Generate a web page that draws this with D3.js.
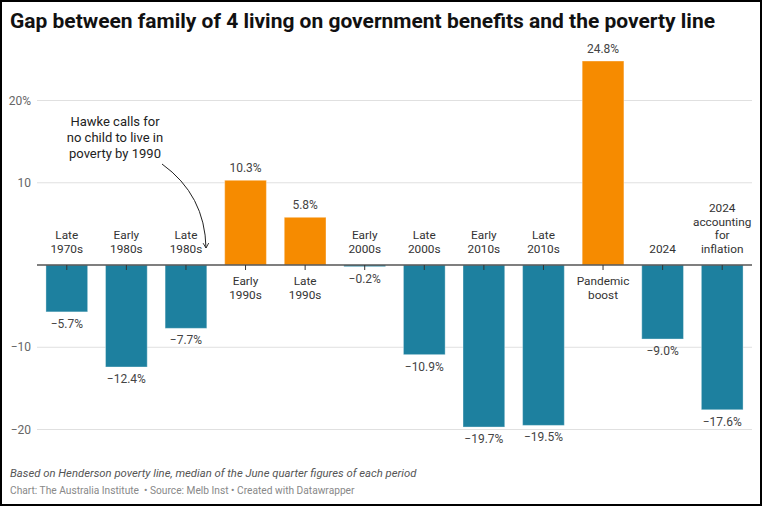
<!DOCTYPE html>
<html>
<head>
<meta charset="utf-8">
<script src="https://cdn.jsdelivr.net/npm/d3@7"></script>
<style>
  body { margin: 0; background: #fff; }
  svg { display: block; font-family: Roboto, "Noto Sans", sans-serif; }
</style>
</head>
<body>
<div id="chart"></div>
<script>
// Data
const categories = [
    ['Late', '1970s'], ['Early', '1980s'], ['Late', '1980s'], ['Early', '1990s'],
    ['Late', '1990s'], ['Early', '2000s'], ['Late', '2000s'], ['Early', '2010s'],
    ['Late', '2010s'], ['Pandemic', 'boost'], ['2024'], ['2024', 'accounting', 'for', 'inflation']
];
const values = [-5.7, -12.4, -7.7, 10.3, 5.8, -0.2, -10.9, -19.7, -19.5, 24.8, -9.0, -17.6];
const highlighted = [false, false, false, true, true, false, false, false, false, true, false, false];
const yTicks = [-20, -10, 0, 10, 20];
const annotationLines = ['Hawke calls for', 'no child to live in', 'poverty by 1990'];

const width = 763;
const height = 507;
const margin = { left: 37, right: 11 };

const svg = d3.select('#chart')
    .append('svg')
    .attr('width', width)
    .attr('height', height);

// Frame
svg.append('rect')
    .attr('x', 1).attr('y', 1)
    .attr('width', width - 3).attr('height', height - 3)
    .attr('fill', 'none')
    .attr('stroke', '#000')
    .attr('stroke-width', 2);

// Title
svg.append('text')
    .attr('x', 10)
    .attr('y', 28)
    .attr('font-size', 21)
    .attr('font-weight', 700)
    .attr('fill', '#111')
    .attr('textLength', 705)
    .attr('lengthAdjust', 'spacingAndGlyphs')
    .text('Gap between family of 4 living on government benefits and the poverty line');

const xScale = d3.scaleBand()
    .domain(d3.range(values.length))
    .range([margin.left, width - margin.right])
    .paddingInner(0.3)
    .paddingOuter(0.15);

const yScale = d3.scaleLinear()
    .domain([-20, 20])
    .range([429.5, 100.5]);

// Gridlines and y labels
const grid = svg.append('g');
grid.selectAll('line')
    .data(yTicks.filter(d => d !== 0))
    .enter()
    .append('line')
    .attr('x1', margin.left)
    .attr('x2', width - margin.right)
    .attr('y1', d => yScale(d))
    .attr('y2', d => yScale(d))
    .attr('stroke', '#e0e0e0')
    .attr('stroke-width', 1);

grid.selectAll('text')
    .data(yTicks.filter(d => d !== 0))
    .enter()
    .append('text')
    .attr('x', 31)
    .attr('y', d => yScale(d) + 4)
    .attr('text-anchor', 'end')
    .attr('font-size', 12)
    .attr('fill', '#666')
    .text(d => d === 20 ? '20%' : (d < 0 ? '\u2212' + Math.abs(d) : d));

// Bars
svg.append('g')
    .selectAll('rect')
    .data(values)
    .enter()
    .append('rect')
    .attr('x', (d, i) => xScale(i))
    .attr('width', xScale.bandwidth())
    .attr('y', d => yScale(Math.max(0, d)))
    .attr('height', d => Math.abs(yScale(d) - yScale(0)))
    .attr('fill', (d, i) => highlighted[i] ? '#f68b00' : '#1d809f')
    .attr('stroke', 'rgba(255,255,255,0.35)')
    .attr('stroke-width', 1);

// Zero line and ticks
svg.append('line')
    .attr('x1', margin.left)
    .attr('x2', width - margin.right)
    .attr('y1', yScale(0))
    .attr('y2', yScale(0))
    .attr('stroke', '#555')
    .attr('stroke-width', 1.5);

svg.append('g')
    .selectAll('line')
    .data(values)
    .enter()
    .append('line')
    .attr('x1', (d, i) => xScale(i) + xScale.bandwidth() / 2)
    .attr('x2', (d, i) => xScale(i) + xScale.bandwidth() / 2)
    .attr('y1', yScale(0))
    .attr('y2', yScale(0) + 5)
    .attr('stroke', '#333')
    .attr('stroke-width', 1);

// Category labels: above axis for negative bars, below for positive
const catGroup = svg.append('g')
    .attr('font-size', 11.8)
    .attr('fill', '#333')
    .attr('text-anchor', 'middle');

categories.forEach((lines, i) => {
    const cx = xScale(i) + xScale.bandwidth() / 2;
    const lh = 13.6;
    lines.forEach((line, j) => {
        const y = values[i] < 0
            ? yScale(0) - 12 - (lines.length - 1 - j) * lh
            : yScale(0) + 20 + j * lh;
        catGroup.append('text').attr('x', cx).attr('y', y).text(line);
    });
});

// Value labels
svg.append('g')
    .selectAll('text')
    .data(values)
    .enter()
    .append('text')
    .attr('x', (d, i) => xScale(i) + xScale.bandwidth() / 2)
    .attr('y', d => d < 0 ? yScale(d) + 16 : yScale(d) - 8)
    .attr('text-anchor', 'middle')
    .attr('font-size', 12)
    .attr('fill', '#444')
    .text(d => (d < 0 ? '\u2212' : '') + Math.abs(d).toFixed(1) + '%');

// Annotation
const ann = svg.append('g')
    .attr('text-anchor', 'middle')
    .attr('font-size', 13)
    .attr('fill', '#222');
annotationLines.forEach((line, j) => {
    ann.append('text').attr('x', 115).attr('y', 126 + j * 16).text(line);
});

svg.append('defs').append('marker')
    .attr('id', 'arrow')
    .attr('viewBox', '0 0 10 10')
    .attr('refX', 8).attr('refY', 5)
    .attr('markerWidth', 7).attr('markerHeight', 7)
    .attr('orient', 'auto')
    .append('path')
    .attr('d', 'M1,1 L8,5 L1,9')
    .attr('fill', 'none')
    .attr('stroke', '#222')
    .attr('stroke-width', 1.3);

svg.append('path')
    .attr('d', 'M162,164 Q205,195 206,248')
    .attr('fill', 'none')
    .attr('stroke', '#222')
    .attr('stroke-width', 1)
    .attr('marker-end', 'url(#arrow)');

// Footer
svg.append('text')
    .attr('x', 10)
    .attr('y', 477)
    .attr('font-size', 11.3)
    .attr('font-style', 'italic')
    .attr('fill', '#555')
    .text('Based on Henderson poverty line, median of the June quarter figures of each period');

svg.append('text')
    .attr('x', 10)
    .attr('y', 494)
    .attr('font-size', 10.2)
    .attr('fill', '#888')
    .text('Chart: The Australia Institute \u00a0\u2022 Source: Melb Inst \u2022 Created with Datawrapper');
</script>
</body>
</html>
